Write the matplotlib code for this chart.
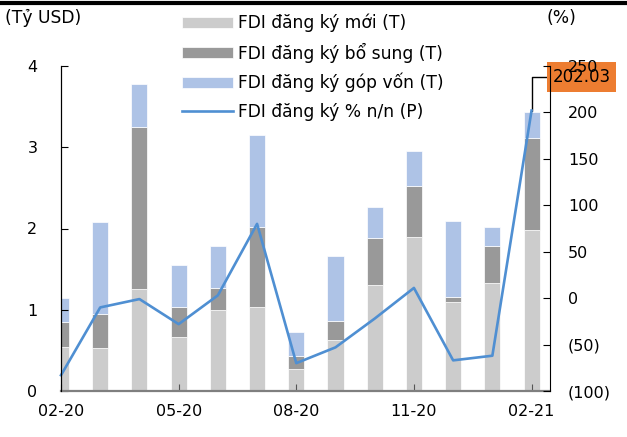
import matplotlib
matplotlib.use('Agg')
import matplotlib.pyplot as plt
import numpy as np
from matplotlib.lines import Line2D
from matplotlib.ticker import FuncFormatter

plt.rcParams['font.family'] = ['DejaVu Sans']

months = ['02-20', '03-20', '04-20', '05-20', '06-20', '07-20', '08-20',
          '09-20', '10-20', '11-20', '12-20', '01-21', '02-21']
fdi_moi = [0.54, 0.53, 1.25, 0.66, 1.00, 1.03, 0.27, 0.63, 1.30, 1.90, 1.09, 1.33, 1.98]
fdi_bosung = [0.31, 0.42, 2.00, 0.37, 0.27, 0.99, 0.16, 0.23, 0.58, 0.62, 0.07, 0.45, 1.13]
fdi_gopvon = [0.29, 1.13, 0.53, 0.52, 0.51, 1.13, 0.30, 0.80, 0.39, 0.43, 0.93, 0.24, 0.32]
fdi_yoy = [-83, -10, -1, -28, 3, 80, -70, -53, -22, 11, -67, -62, 202.03]

labels = ['FDI đăng ký mới (T)', 'FDI đăng ký bổ sung (T)',
          'FDI đăng ký góp vốn (T)', 'FDI đăng ký % n/n (P)']
c_moi, c_bs, c_gv, c_line = '#CCCCCC', '#999999', '#AEC3E6', '#4F8FD2'

x = np.arange(len(months))
moi = np.array(fdi_moi)
bs = np.array(fdi_bosung)
gv = np.array(fdi_gopvon)

fig = plt.figure(figsize=(6.27, 4.37), dpi=100)
ax1 = fig.add_axes([61 / 627, 1 - 391 / 437, 489 / 627, 325 / 437])
ax2 = ax1.twinx()

w = 0.41
b1 = ax1.bar(x, moi, w, color=c_moi, edgecolor='white', linewidth=0.5)
b2 = ax1.bar(x, bs, w, bottom=moi, color=c_bs, edgecolor='white', linewidth=0.5)
b3 = ax1.bar(x, gv, w, bottom=moi + bs, color=c_gv, edgecolor='white', linewidth=0.5)
ln, = ax2.plot(x, fdi_yoy, color=c_line, lw=1.9, clip_on=False)

ax1.set_xlim(0, 12.47)
ax1.set_ylim(0, 4)
ax2.set_ylim(-100, 250)
ax1.set_yticks([0, 1, 2, 3, 4])
ax2.set_yticks(np.arange(-100, 251, 50))
ax2.yaxis.set_major_formatter(FuncFormatter(
    lambda v, p: f'({abs(int(v))})' if v < 0 else f'{int(v)}'))
ax1.set_xticks(x[::3])
ax1.set_xticklabels(months[::3])

for a in (ax1, ax2):
    a.spines['top'].set_visible(False)
    a.spines['left'].set_color('black')
    a.spines['right'].set_color('black')
    a.spines['bottom'].set_color('#7F7F7F')
    a.spines['bottom'].set_linewidth(1.6)
ax2.spines['bottom'].set_visible(False)
ax1.spines['right'].set_visible(False)

ax1.tick_params(axis='y', direction='in', length=5, pad=17, labelsize=11.5)
ax1.tick_params(axis='x', direction='in', length=5, pad=9, labelsize=11.5,
                color='#555555')
ax2.tick_params(axis='y', direction='in', length=5, pad=13, labelsize=11.5)

# orange value label on the last point; placed on ax1 so the right-hand
# tick labels stay on top of it
ax1.annotate(f'{fdi_yoy[-1]:.2f}', xy=(x[-1], fdi_yoy[-1]), xycoords=ax2.transData,
             xytext=(36, 24), textcoords='offset points',
             ha='center', va='center', fontsize=12, color='black',
             bbox=dict(boxstyle='square,pad=0.35', fc='#ED7D31', ec='none'),
             arrowprops=dict(arrowstyle='-', color='black', lw=1,
                             shrinkA=0, shrinkB=0,
                             connectionstyle='angle,angleA=0,angleB=90,rad=0'),
             annotation_clip=False)

fig.text(5 / 627, 1 - 18 / 437, '(Tỷ USD)', fontsize=12.3, va='center', ha='left')
fig.text(547 / 627, 1 - 18 / 437, '(%)', fontsize=12.3, va='center', ha='left')

handles = [b1, b2, b3, ln]
fig.legend(handles, labels, loc='upper left', bbox_to_anchor=(175 / 627, 1 - 7 / 437),
           frameon=False, fontsize=12.3, handlelength=3.0, handleheight=0.59,
           handletextpad=0.3, labelspacing=0.6, borderaxespad=0)

fig.add_artist(Line2D([0, 1], [1 - 3 / 437, 1 - 3 / 437], color='black', lw=3,
                      transform=fig.transFigure))

fig.savefig('out.png', dpi=100)
